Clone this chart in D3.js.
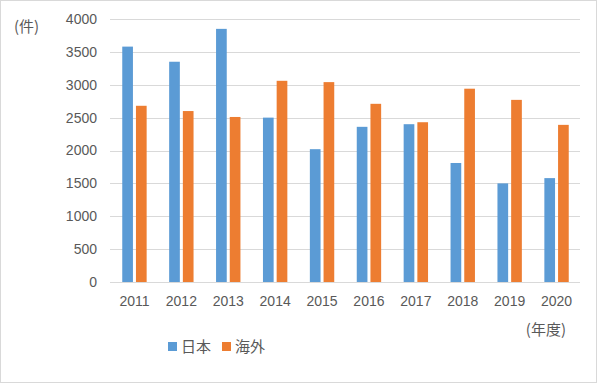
<!DOCTYPE html>
<html>
<head>
<meta charset="utf-8">
<script src="https://cdn.jsdelivr.net/npm/d3@7"></script>
<style>
	body { margin:0; background:#fff; }
	text { fill:#595959; }
	.tickText { font-family:"Liberation Sans", Arial, sans-serif; font-size:14px; }
	.jpText { font-family:"Noto Sans CJK JP", sans-serif; font-size:15px; }
</style>
</head>
<body>
<div id="idChart"></div>
<script>
var aYears=["2011","2012","2013","2014","2015","2016","2017","2018","2019","2020"];
var aSeries=["日本","海外"];
var aJapan=[3580,3350,3850,2500,2020,2360,2400,1810,1500,1580];
var aOverseas=[2680,2600,2510,3060,3040,2710,2430,2940,2770,2390];
var aYTicks=[0,500,1000,1500,2000,2500,3000,3500,4000];
var aColors=["#5B9BD5","#ED7D31"];

var iWidth=598;
var iHeight=384;
var iLeft=111, iRight=580, iTop=19, iBottom=282;

var myCanvas=d3.select("#idChart").append("svg")
	.attr("width",iWidth)
	.attr("height",iHeight);

// chart border
myCanvas.append("rect")
	.attr("x",0.5).attr("y",0.5)
	.attr("width",iWidth-2).attr("height",iHeight-2)
	.attr("fill","#fff")
	.attr("stroke","#D9D9D9");

var xAxes=d3.scaleBand().domain(aYears).range([iLeft,iRight]).paddingInner(0.48).paddingOuter(0.24);
var xInner=d3.scaleBand().domain(aSeries).range([0,xAxes.bandwidth()]).paddingInner(0.22);
var yAxes=d3.scaleLinear().domain([0,4000]).range([iBottom,iTop]);

// gridlines
myCanvas.append("g").selectAll("line")
	.data(aYTicks)
	.enter().append("line")
	.attr("x1",iLeft-1).attr("x2",iRight)
	.attr("y1",function(d){return Math.round(yAxes(d))+0.5;})
	.attr("y2",function(d){return Math.round(yAxes(d))+0.5;})
	.attr("stroke","#D9D9D9")
	.attr("stroke-width",1);

// y axis labels
var yAxis=d3.axisLeft(yAxes).tickValues(aYTicks).tickFormat(d3.format("d")).tickSize(0).tickPadding(14);
var gY=myCanvas.append("g").attr("transform","translate("+iLeft+",0)").call(yAxis);
gY.select(".domain").remove();
gY.selectAll("text").attr("class","tickText").attr("fill","#595959");

// x axis labels
var xAxis=d3.axisBottom(xAxes).tickSize(0).tickPadding(14);
var gX=myCanvas.append("g").attr("transform","translate(0,"+iBottom+")").call(xAxis);
gX.select(".domain").remove();
gX.selectAll("text").attr("class","tickText").attr("fill","#595959");

// bars
var aRows=aYears.map(function(sYear,i){return {sYear:sYear,aVals:[aJapan[i],aOverseas[i]]};});
var myGroups=myCanvas.append("g").selectAll("g")
	.data(aRows)
	.enter().append("g")
	.attr("transform",function(d){return "translate("+xAxes(d.sYear)+",0)";});

myGroups.selectAll("rect")
	.data(function(d){return d.aVals.map(function(v,j){return {sSeries:aSeries[j],iVal:v,iIdx:j};});})
	.enter().append("rect")
	.attr("x",function(d){return xInner(d.sSeries);})
	.attr("width",xInner.bandwidth())
	.attr("y",function(d){return yAxes(d.iVal);})
	.attr("height",function(d){return iBottom-yAxes(d.iVal);})
	.attr("fill",function(d){return aColors[d.iIdx];});

// unit labels
myCanvas.append("text").attr("class","jpText")
	.attr("x",14).attr("y",27).attr("dy","0.35em")
	.text("(件)");
myCanvas.append("text").attr("class","jpText")
	.attr("x",566).attr("y",330).attr("dy","0.35em")
	.attr("text-anchor","end")
	.text("(年度)");

// legend
var aLegendX=[168,222];
var myLegend=myCanvas.append("g").selectAll("g")
	.data(aSeries)
	.enter().append("g")
	.attr("transform",function(d,i){return "translate("+aLegendX[i]+",342)";});
myLegend.append("rect")
	.attr("width",9).attr("height",9)
	.attr("fill",function(d,i){return aColors[i];});
myLegend.append("text").attr("class","jpText")
	.attr("x",13).attr("y",4.5).attr("dy","0.35em")
	.text(function(d){return d;});
</script>
</body>
</html>
